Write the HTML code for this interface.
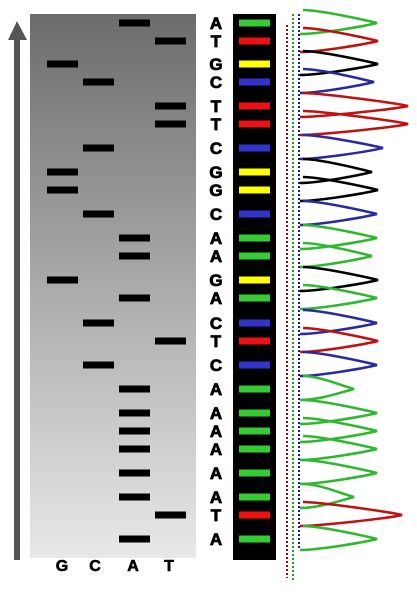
<!DOCTYPE html>
<html><head><meta charset="utf-8"><style>
html,body{margin:0;padding:0;background:#fff;width:417px;height:594px;overflow:hidden}
svg{display:block}
text{font-family:"Liberation Sans",sans-serif;font-weight:bold}
</style></head><body>
<svg id="c" width="417" height="594" viewBox="0 0 417 594">
<defs><linearGradient id="gg" x1="0" y1="0" x2="0" y2="1"><stop offset="0" stop-color="#6c6c6c"/><stop offset="1" stop-color="#e8e8e8"/></linearGradient></defs>
<rect x="30" y="14" width="166" height="544" fill="url(#gg)"/>
<rect x="14" y="40" width="6" height="520" fill="#555"/>
<polygon points="8,40 17,21 27,40" fill="#555"/>
<rect x="233" y="14" width="43" height="546" fill="#000"/>
<line x1="287" y1="25" x2="287" y2="578" stroke="#8b1010" stroke-width="2" stroke-dasharray="2,2"/>
<line x1="293" y1="14" x2="293" y2="582" stroke="#2a9a2a" stroke-width="2" stroke-dasharray="2,2"/>
<line x1="299" y1="14" x2="299" y2="550" stroke="#1a1a90" stroke-width="2" stroke-dasharray="2,2"/>
<g id="g"></g>
</svg>
<script>
const bases=["A","T","G","C","T","T","C","G","G","C","A","A","G","A","C","T","C","A","A","A","A","A","A","T","A"];
const positions=[23,41,64,82,106,124,148,172,190,214,238,256,280,298,323,341,365,389,413,431,449,473,497,515,539];
const peakHeights=[77,78,78,74,108,108,83,72,78,77,77,72,78,77,77,78,77,54,77,77,77,77,54,102,77];
const laneOrder=["G","C","A","T"];
const laneX={G:47,C:83,A:119,T:155};
const bandCol={A:"#33cc33",T:"#ee1111",G:"#ffff00",C:"#3333cc"};
const peakCol={A:"#2db82d",T:"#c01010",G:"#000000",C:"#2a2aa0"};
const NS="http://www.w3.org/2000/svg";
const g=document.getElementById("g");
function mk(t,a){const e=document.createElementNS(NS,t);for(const k in a)e.setAttribute(k,a[k]);g.appendChild(e);return e;}
bases.forEach((b,i)=>{
  const y=positions[i];
  const r=mk("rect",{x:laneX[b],y:y-3.5,width:31,height:7,fill:"#000"});
  
  
  const t=mk("text",{x:216,y:y+6,"font-size":17,"text-anchor":"middle",fill:"#000",stroke:"#000","stroke-width":0.8});
  t.textContent=b;
  
  
  const c=mk("rect",{x:239,y:y-3.5,width:31,height:7,fill:bandCol[b]});
  
  
  const tx=300+peakHeights[i];
  const p=mk("path",{d:`M303,${y-13} C${320},${y-13} ${tx-12},${y-3} ${tx},${y} C${tx-12},${y+3} ${320},${y+11} 300,${y+11}`,fill:"none",stroke:peakCol[b],"stroke-width":2.5});
  
  
});
const lx=[62,95,133,169];
laneOrder.forEach((l,i)=>{
  const t=mk("text",{x:lx[i],y:571,"font-size":16,"text-anchor":"middle",fill:"#000",stroke:"#000","stroke-width":0.6});
  t.textContent=l;
  
  
});
</script>
</body></html>
